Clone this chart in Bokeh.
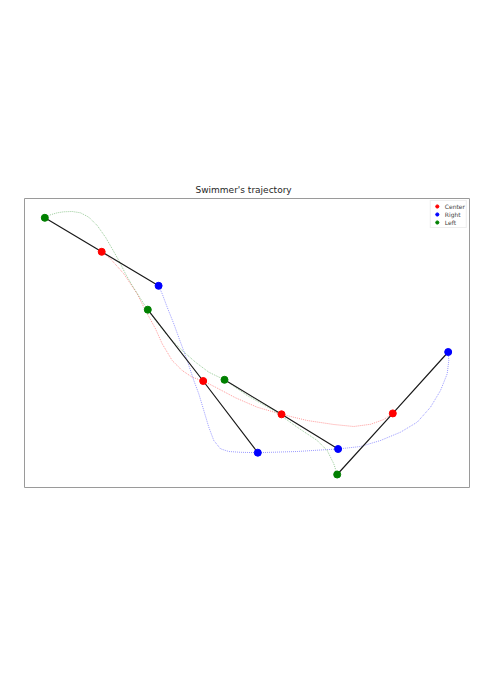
from bokeh.plotting import figure
from bokeh.models import Range1d
from bokeh.embed import file_html
from bokeh.resources import INLINE

# Swimmer positions (left hand, center, right hand) at 4 moments
left_x = [20.3, 123.3, 200.0, 312.7]
left_y = [269.7, 177.8, 107.7, 13.0]
center_x = [77.2, 178.7, 257.0, 368.3]
center_y = [235.7, 106.5, 73.2, 74.1]
right_x = [134.1, 233.3, 313.6, 423.7]
right_y = [201.7, 34.8, 38.5, 135.5]

# Trajectory curves
left_curve_x = [20.3, 26, 32.7, 39.3, 47.7, 56, 64.3, 72.7, 81, 87.7, 94.3, 101, 107.7,
                119.3, 123.3, 131, 144.3, 157.7, 171, 184.3, 200, 222.7, 249.3, 272.7,
                292.7, 302.7, 306, 309.3, 312.7]
left_curve_y = [269.7, 272.7, 274.7, 275.7, 276, 274.7, 270.3, 262, 250.3, 238.7, 227, 213.7,
                202, 183.7, 177.8, 167, 150.3, 137, 125.3, 115.3, 107.7, 92, 77, 60.3,
                47, 37, 30.3, 23.7, 13.0]
center_curve_x = [77.2, 86, 99.3, 112.7, 121, 131, 137.7, 147.7, 157.7, 167.7, 178.7, 191,
                  211, 232.7, 257.0, 282.7, 309.3, 329.3, 346, 359.3, 368.3]
center_curve_y = [235.7, 228.7, 213.7, 193.7, 177, 158.7, 143.7, 127, 117, 110.3, 106.5,
                  100.3, 89.7, 80.3, 73.2, 67, 63, 61, 63.2, 68, 74.1]
right_curve_x = [134.1, 137.7, 142.7, 149.3, 156, 162.7, 169.3, 174.3, 179.3, 184.3, 189.3,
                 196, 204.3, 216, 233.3, 272.7, 299.3, 313.6, 336, 356, 376, 392.7, 406,
                 416, 422.7, 424.3, 423.7]
right_curve_y = [201.7, 193.7, 180.3, 163.7, 145.3, 127, 107, 93.7, 77, 60.3, 47, 38.7, 36,
                 35.2, 34.8, 36, 37.7, 38.5, 41, 47, 55.3, 65.3, 80.3, 97, 113.7, 127, 135.5]

p = figure(width=480, height=682, output_backend="svg", toolbar_location=None,
           x_range=Range1d(0, 445), y_range=Range1d(0, 289),
           min_border_left=24, min_border_right=11, min_border_top=198, min_border_bottom=195,
           title="Swimmer's trajectory")
p.title.align = "left"
p.title.offset = 171
p.title.text_font = "DejaVu Sans"
p.title.text_font_size = "9px"
p.title.text_font_style = "normal"
p.title.text_color = "#262626"
p.title.standoff = 7
p.xaxis.visible = False
p.yaxis.visible = False
p.xgrid.visible = False
p.ygrid.visible = False
p.outline_line_color = "#9a9a9a"
p.outline_line_width = 1
p.background_fill_color = "white"
p.border_fill_color = "white"

# dotted trajectories
p.line(center_curve_x, center_curve_y, color="red", line_dash="1 1", line_width=0.8, line_alpha=0.5)
p.line(right_curve_x, right_curve_y, color="blue", line_dash="1 1", line_width=0.8, line_alpha=0.5)
p.line(left_curve_x, left_curve_y, color="green", line_dash="1 1", line_width=0.8, line_alpha=0.5)

# body segments
for i in range(len(center_x)):
    p.line([left_x[i], center_x[i], right_x[i]], [left_y[i], center_y[i], right_y[i]],
           color="#1a1a1a", line_width=1.2)

p.scatter(center_x, center_y, size=7, color="red", legend_label="Center")
p.scatter(right_x, right_y, size=7, color="blue", legend_label="Right")
p.scatter(left_x, left_y, size=7, color="green", legend_label="Left")

lg = p.legend[0]
lg.location = "top_right"
lg.label_text_font = "DejaVu Sans"
lg.label_text_font_size = "6px"
lg.label_height = 6
lg.glyph_height = 8
lg.glyph_width = 10
lg.spacing = 0
lg.padding = 1
lg.margin = 2
lg.label_standoff = 3
lg.border_line_color = "#dddddd"
lg.border_line_width = 1

open("out.html", "w").write(file_html(p, INLINE))
